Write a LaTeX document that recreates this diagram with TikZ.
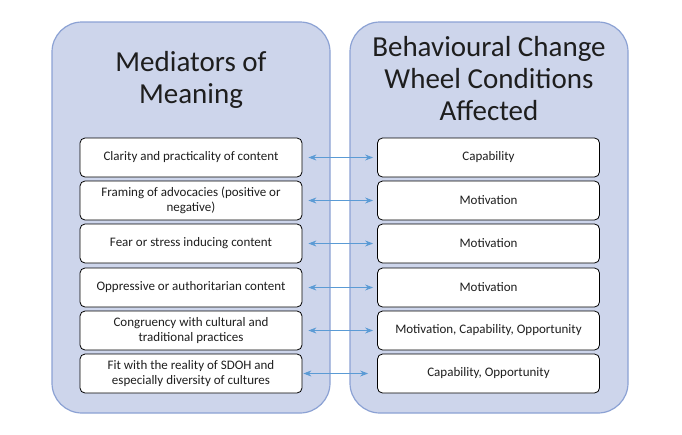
\documentclass[tikz,border=0pt]{standalone}
\usepackage{fontspec}
\setmainfont{Carlito}
\usetikzlibrary{arrows.meta}
\definecolor{panelfill}{RGB}{205,213,235}
\definecolor{paneledge}{RGB}{140,162,212}
\definecolor{linkblue}{RGB}{91,155,213}
\definecolor{inktext}{RGB}{30,30,30}

\begin{document}
\begin{tikzpicture}[x=1pt, y=-1pt,
  panel/.style={draw=paneledge, fill=panelfill, line width=1.2pt, rounded corners=30pt, minimum width=278pt, minimum height=391pt, inner sep=0pt},
  item/.style={draw=black, fill=white, line width=0.8pt, rounded corners=5pt, minimum width=222pt, minimum height=39pt, inner sep=0pt, align=center, text=inktext, font=\fontsize{13}{15.5}\selectfont},
  heading/.style={align=center, text=inktext, font=\fontsize{29}{32}\selectfont},
  link/.style={linkblue, line width=0.9pt, {Stealth[length=8pt,width=6pt]}-{Stealth[length=8pt,width=6pt]}, shorten <=6pt, shorten >=4pt}]
  \fill[white] (0,0) rectangle (682,434);
  \useasboundingbox (0,0) rectangle (682,434);
  \node[panel] (mediators) at (191,217.5) {};
  \node[panel] (wheel) at (489,217.5) {};
  \node[heading] (mediatorstitle) at (191,80) {Mediators of\\Meaning};
  \node[heading] (wheeltitle) at (489,79) {Behavioural Change\\Wheel Conditions\\Affected};
  \node[item] (m1) at (191,157.5) {Clarity and practicality of content};
  \node[item] (m2) at (191,200.5) {Framing of advocacies (positive or\\negative)};
  \node[item] (m3) at (191,243.5) {Fear or stress inducing content};
  \node[item] (m4) at (191,287.5) {Oppressive or authoritarian content};
  \node[item] (m5) at (191,330.5) {Congruency with cultural and\\traditional practices};
  \node[item] (m6) at (191,373.5) {Fit with the reality of SDOH and\\especially diversity of cultures};
  \node[item] (c1) at (488.5,157.5) {Capability};
  \node[item] (c2) at (488.5,200.5) {Motivation};
  \node[item] (c3) at (488.5,243.5) {Motivation};
  \node[item] (c4) at (488.5,287.5) {Motivation};
  \node[item] (c5) at (488.5,330.5) {Motivation, Capability, Opportunity};
  \node[item] (c6) at (488.5,373.5) {Capability, Opportunity};
  \draw[link] (m1) -- (c1);
  \draw[link] (m2) -- (c2);
  \draw[link] (m3) -- (c3);
  \draw[link] (m4) -- (c4);
  \draw[link] (m5) -- (c5);
  \draw[link, shorten <=1pt, shorten >=9pt] (m6) -- (c6);
\end{tikzpicture}
\end{document}
